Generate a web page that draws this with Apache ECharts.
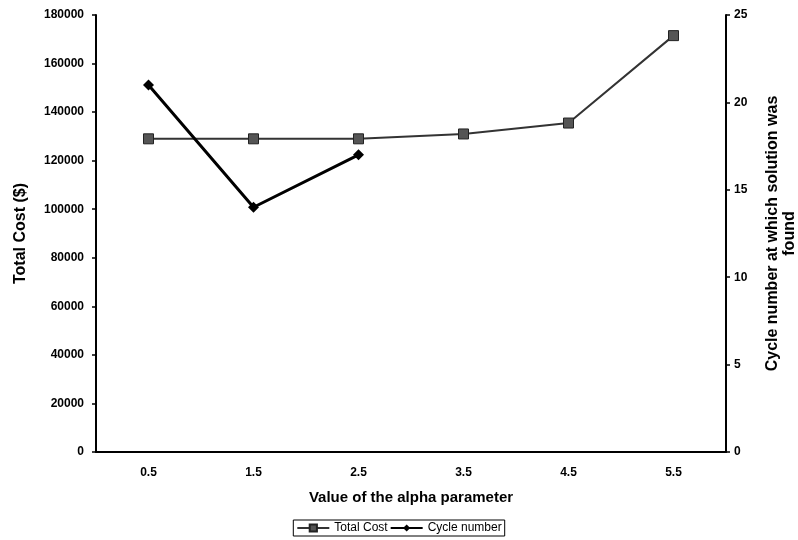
<!DOCTYPE html>
<html>
<head>
<meta charset="utf-8">
<script src="https://cdn.jsdelivr.net/npm/echarts@6/dist/echarts.min.js"></script>
<style>
  html, body { margin: 0; padding: 0; background: #fff; }
  #chart { width: 798px; height: 540px; }
</style>
</head>
<body>
<div id="chart"></div>
<script>
// alpha values on the x axis
const alphaValues = ['0.5', '1.5', '2.5', '3.5', '4.5', '5.5'];
// total cost, left axis
const totalCost = [129000, 129000, 129000, 131000, 135500, 171500];
// cycle number at which solution was found, right axis (only first three)
const cycleNumber = [21, 14, 17, null, null, null];

const chart = echarts.init(document.getElementById('chart'));
const font = 'Liberation Sans, Arial, sans-serif';

chart.setOption({
  animation: false,
  textStyle: { fontFamily: font },
  grid: { left: 96, right: 72, top: 15, bottom: 88, outerBoundsMode: 'none' },
  legend: {
    bottom: 4,
    left: 'center',
    itemWidth: 32,
    itemHeight: 9,
    itemGap: 2,
    padding: [2, 3],
    borderColor: '#000',
    borderWidth: 1,
    textStyle: { fontSize: 12, color: '#000', fontFamily: font },
    data: ['Total Cost', 'Cycle number']
  },
  xAxis: {
    type: 'category',
    data: alphaValues,
    boundaryGap: true,
    name: 'Value of the alpha parameter',
    nameLocation: 'middle',
    nameGap: 38,
    nameTextStyle: { fontSize: 15, fontWeight: 'bold', color: '#000' },
    axisLine: { lineStyle: { color: '#000', width: 2 } },
    axisTick: { lineStyle: { color: '#000', width: 1.5 }, length: 4 },
    axisLabel: { color: '#000', fontWeight: 'bold', fontSize: 12, margin: 15 },
    splitLine: { show: false }
  },
  yAxis: [
    {
      type: 'value',
      min: 0,
      max: 180000,
      interval: 20000,
      name: 'Total Cost ($)',
      nameLocation: 'middle',
      nameRotate: 90,
      nameGap: 67,
      nameTextStyle: { fontSize: 16, fontWeight: 'bold', color: '#000' },
      axisLine: { show: true, lineStyle: { color: '#000', width: 2 } },
      axisTick: { show: true, length: 4, lineStyle: { color: '#000', width: 1.5 } },
      axisLabel: { color: '#000', fontWeight: 'bold', fontSize: 12, margin: 12, formatter: v => String(v) },
      splitLine: { show: false }
    },
    {
      type: 'value',
      min: 0,
      max: 25,
      interval: 5,
      position: 'right',
      name: 'Cycle number at which solution was\nfound',
      nameLocation: 'middle',
      nameRotate: 90,
      nameGap: 38,
      nameTextStyle: { fontSize: 16, fontWeight: 'bold', color: '#000', lineHeight: 17 },
      axisLine: { show: true, lineStyle: { color: '#000', width: 2 } },
      axisTick: { show: true, length: 4, lineStyle: { color: '#000', width: 1.5 } },
      axisLabel: { color: '#000', fontWeight: 'bold', fontSize: 12, margin: 8 },
      splitLine: { show: false }
    }
  ],
  series: [
    {
      name: 'Total Cost',
      type: 'line',
      yAxisIndex: 0,
      data: totalCost,
      symbol: 'rect',
      symbolSize: 10,
      lineStyle: { color: '#333', width: 2 },
      itemStyle: { color: '#555', borderColor: '#222', borderWidth: 1 },
      z: 2
    },
    {
      name: 'Cycle number',
      type: 'line',
      yAxisIndex: 1,
      data: cycleNumber,
      connectNulls: false,
      symbol: 'diamond',
      symbolSize: 11,
      lineStyle: { color: '#000', width: 3 },
      itemStyle: { color: '#000' },
      z: 3
    }
  ]
});
</script>
</body>
</html>
